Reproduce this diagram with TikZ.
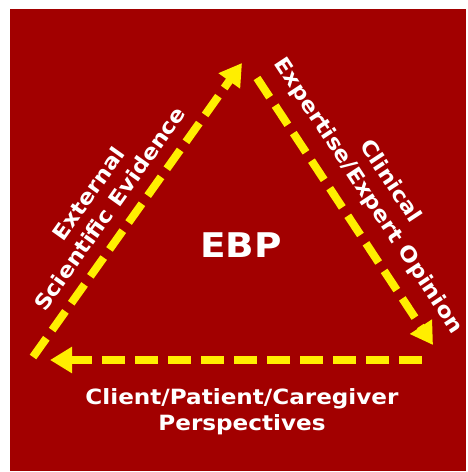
\documentclass[tikz,border=0pt]{standalone}
\usepackage{fontspec}
\setmainfont{DejaVu Sans}[FakeStretch=1.1]
\usetikzlibrary{arrows.meta}
\definecolor{ebpred}{RGB}{162,0,0}
\definecolor{ebpyellow}{RGB}{255,238,0}
\tikzset{
  flow/.style={draw=ebpyellow, line width=8pt, dash pattern=on 23pt off 10pt,
    -{Triangle[length=22pt,width=25pt]}},
  lbl/.style={text=white, font=\fontsize{21}{26}\selectfont\bfseries, align=center, inner sep=0pt},
}
\begin{document}
\begin{tikzpicture}[x=1pt,y=-1pt]
\fill[white] (0,0) rectangle (467,472);
\useasboundingbox (0,0) rectangle (467,472);
\fill[ebpred] (10,9) rectangle (466,471);
\coordinate (lb) at (33,357);
\coordinate (lt) at (242,63);
\coordinate (rt) at (257,78);
\coordinate (rb) at (433,345);
\coordinate (br) at (422,360);
\coordinate (bl) at (50,360);
\draw[flow] (lb) -- (lt);
\draw[flow] (rt) -- (rb);
\draw[flow] (br) -- (bl);
\node[lbl, font=\fontsize{34}{40}\selectfont\bfseries] (ebp) at (241,245) {EBP};
\node[lbl, rotate=54.6] (ext) at (99,201) {External\\Scientific Evidence};
\node[lbl, rotate=-56.6] (clin) at (379,189) {Clinical\\Expertise/Expert Opinion};
\node[lbl] (client) at (242,412) {Client/Patient/Caregiver\\Perspectives};
\end{tikzpicture}
\end{document}
